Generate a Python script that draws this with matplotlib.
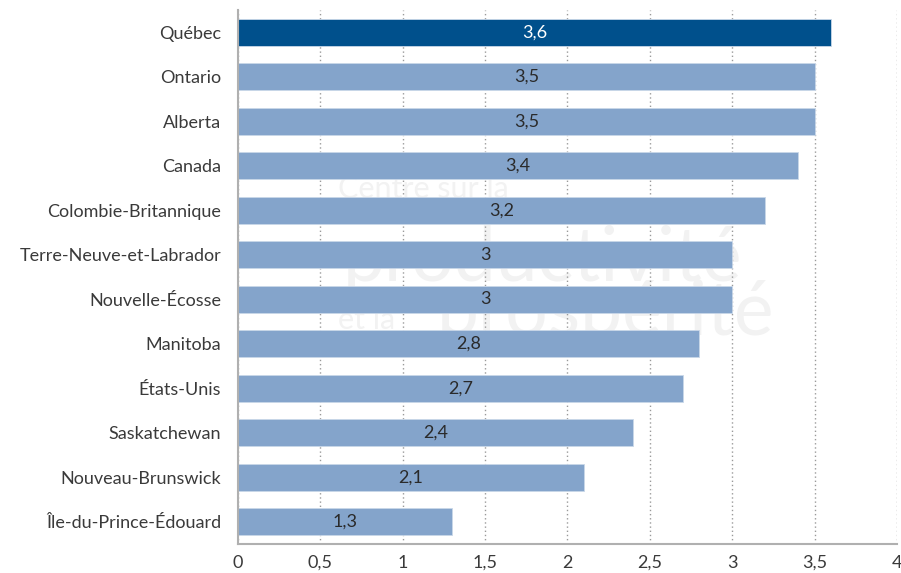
import numpy as np
import matplotlib.pyplot as plt

# données
regions = ["Québec", "Ontario", "Alberta", "Canada", "Colombie-Britannique",
           "Terre-Neuve-et-Labrador", "Nouvelle-Écosse", "Manitoba", "États-Unis",
           "Saskatchewan", "Nouveau-Brunswick", "Île-du-Prince-Édouard"]
valeurs = [3.6, 3.5, 3.5, 3.4, 3.2, 3.0, 3.0, 2.8, 2.7, 2.4, 2.1, 1.3]
graduations = [0, 0.5, 1, 1.5, 2, 2.5, 3, 3.5, 4]


def fr(v):
    # format décimal à la française
    return f"{v:g}".replace(".", ",")


plt.rcParams['font.family'] = ['Lato', 'DejaVu Sans']

fig = plt.figure(figsize=(9.01, 5.73), dpi=100)

# filigrane (derrière le graphique)
wm = "#f2f2f2"
fig.text(0.375, 0.655, "Centre sur la", fontsize=22, color=wm, zorder=-5)
fig.text(0.38, 0.51, "productivité", fontsize=54, color=wm, zorder=-5)
fig.text(0.375, 0.425, "et la", fontsize=22, color=wm, zorder=-5)
fig.text(0.485, 0.415, "prospérité", fontsize=54, color=wm, zorder=-5)

ax = fig.add_axes([0.264, 0.0506, 0.7316, 0.932])
ax.set_zorder(1)
ax.patch.set_alpha(0)

y = np.arange(len(regions))
couleurs = ["#00508c"] + ["#84a4cb"] * (len(regions) - 1)
ax.barh(y, valeurs, height=0.6, color=couleurs, edgecolor="#c9d7e8",
        linewidth=0.6, zorder=2)

for i, v in enumerate(valeurs):
    ax.text(v / 2, i, fr(v), ha="center", va="center", fontsize=13,
            color="white" if i == 0 else "#2a2a2a", zorder=3)

ax.set_ylim(len(regions) - 0.5, -0.5)
ax.set_xlim(0, 4)
ax.set_yticks(y)
ax.set_yticklabels(regions, fontsize=13, color="#3a3a3a")
ax.set_xticks(graduations)
ax.set_xticklabels([fr(g) for g in graduations], fontsize=13, color="#3a3a3a")
ax.tick_params(length=0, axis="both")
ax.tick_params(axis="y", pad=12)
ax.tick_params(axis="x", pad=8)

ax.grid(axis="x", linestyle=(0, (1, 2)), color="#9a9a9a", linewidth=1, zorder=1)
ax.set_axisbelow(True)
for s in ["top", "right"]:
    ax.spines[s].set_visible(False)
ax.spines["left"].set_color("#b0b0b0")
ax.spines["bottom"].set_color("#b0b0b0")
ax.spines["left"].set_linewidth(1.5)
ax.spines["bottom"].set_linewidth(1.5)

fig.savefig("out.png", dpi=100)
